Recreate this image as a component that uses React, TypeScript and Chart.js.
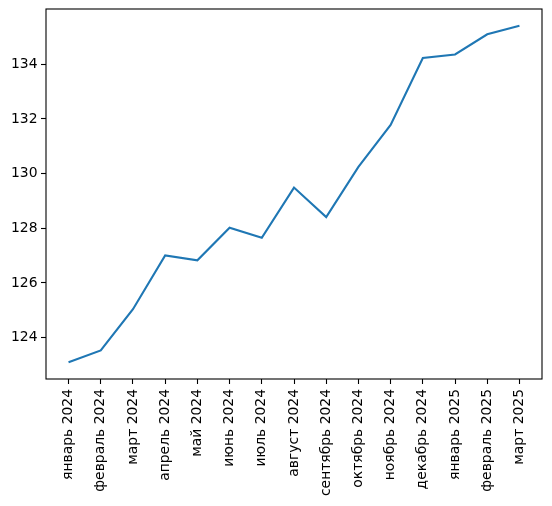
import { Chart, registerables } from "chart.js";
import { useEffect, useRef } from "react";

Chart.register(...registerables);

const months = [
  "январь 2024",
  "февраль 2024",
  "март 2024",
  "апрель 2024",
  "май 2024",
  "июнь 2024",
  "июль 2024",
  "август 2024",
  "сентябрь 2024",
  "октябрь 2024",
  "ноябрь 2024",
  "декабрь 2024",
  "январь 2025",
  "февраль 2025",
  "март 2025",
];

const values = [
  123.1, 123.53, 125.04, 127.01, 126.83, 128.02, 127.65, 129.49, 128.41, 130.25, 131.78, 134.23, 134.36, 135.1, 135.41,
];

const yTicks = [124, 126, 128, 130, 132, 134];

const FONT = { family: "'DejaVu Sans', sans-serif", size: 13.9 };

// рамка вокруг области графика, как в matplotlib
const frame = {
  id: "frame",
  afterDraw(chart: any) {
    const { ctx, chartArea } = chart;
    ctx.save();
    ctx.strokeStyle = "#000";
    ctx.lineWidth = 1.1;
    ctx.strokeRect(chartArea.left, chartArea.top, chartArea.right - chartArea.left, chartArea.bottom - chartArea.top);
    ctx.restore();
  },
};

const LineChart = () => {
  const canvasRef = useRef<HTMLCanvasElement>(null);
  const chartInstance = useRef<Chart | null>(null);

  useEffect(() => {
    if (!canvasRef.current) return;

    const minV = Math.min(...values);
    const maxV = Math.max(...values);
    const padY = (maxV - minV) * 0.05;
    const padX = (months.length - 1) * 0.05;

    const config: any = {
      type: "line",
      data: {
        datasets: [
          {
            data: values.map((v, i) => ({ x: i, y: v })),
            borderColor: "#1f77b4",
            borderWidth: 2.1,
            pointRadius: 0,
            tension: 0,
            fill: false,
          },
        ],
      },
      options: {
        responsive: false,
        animation: false,
        layout: { padding: { top: 9, right: 10, left: 0, bottom: 0 } },
        plugins: {
          legend: { display: false },
          tooltip: { enabled: false },
        },
        scales: {
          x: {
            type: "linear",
            min: -padX,
            max: months.length - 1 + padX,
            afterBuildTicks: (scale: any) => {
              scale.ticks = months.map((_, i) => ({ value: i }));
            },
            afterFit: (scale: any) => {
              scale.height = 127;
              scale.paddingLeft = 0;
              scale.paddingRight = 0;
            },
            ticks: {
              autoSkip: false,
              minRotation: 90,
              maxRotation: 90,
              color: "#000",
              font: FONT,
              padding: 5,
              callback: (v: number) => months[v] ?? "",
            },
            grid: {
              drawOnChartArea: false,
              drawTicks: true,
              tickLength: 5,
              tickColor: "#000",
              tickWidth: 1.1,
            },
            border: { display: false },
          },
          y: {
            type: "linear",
            min: minV - padY,
            max: maxV + padY,
            afterBuildTicks: (scale: any) => {
              scale.ticks = yTicks.map((v) => ({ value: v }));
            },
            afterFit: (scale: any) => {
              scale.width = 46;
              scale.paddingTop = 0;
              scale.paddingBottom = 0;
            },
            ticks: {
              color: "#000",
              font: FONT,
              padding: 3.5,
              callback: (v: number) => String(v),
            },
            grid: {
              drawOnChartArea: false,
              drawTicks: true,
              tickLength: 5,
              tickColor: "#000",
              tickWidth: 1.1,
            },
            border: { display: false },
          },
        },
      },
      plugins: [frame],
    };

    if (chartInstance.current) {
      chartInstance.current.destroy();
    }
    chartInstance.current = new Chart(canvasRef.current, config);

    return () => {
      if (chartInstance.current) {
        chartInstance.current.destroy();
        chartInstance.current = null;
      }
    };
  }, []);

  return <canvas ref={canvasRef} width={552} height={506} />;
};

export default function App() {
  return (
    <div style={{ position: "absolute", left: 0, top: 0, width: 552, height: 506, background: "#fff" }}>
      <LineChart />
    </div>
  );
}
